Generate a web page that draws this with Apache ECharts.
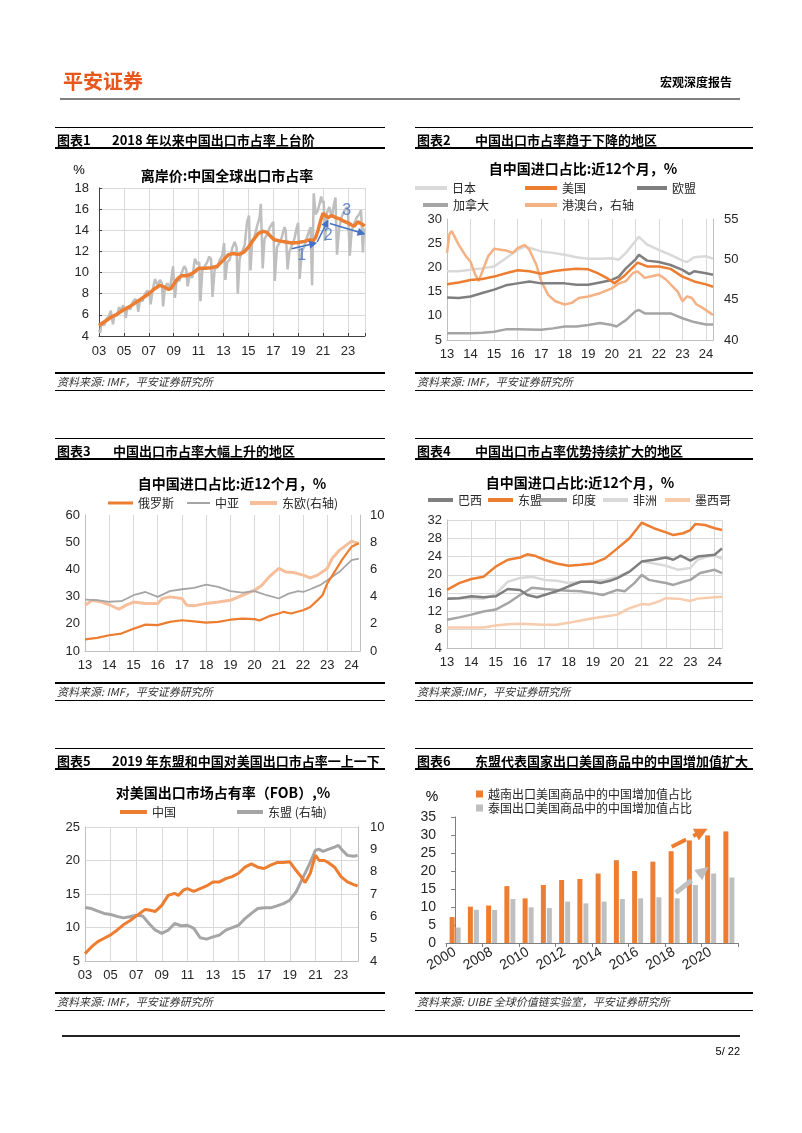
<!DOCTYPE html>
<html><head><meta charset="utf-8">
<script src="https://cdn.jsdelivr.net/npm/echarts@6/dist/echarts.min.js"></script>
<style>
body{margin:0;background:#fff;}
#page{position:relative;width:802px;height:1133px;overflow:hidden;font-family:"Noto Sans CJK SC","Liberation Sans",sans-serif;color:#000;}
#chart{position:absolute;left:0;top:0;width:802px;height:1133px;}
.t{position:absolute;white-space:nowrap;line-height:1.2;}
.c{transform:translate(-50%,-50%);}
.l{transform:translateY(-50%);}
.r{transform:translate(-100%,-50%);}
.ln{position:absolute;}
.pt{font-size:13px;font-weight:bold;}
.ct{font-size:14px;font-weight:bold;}
.src{font-size:11px;font-style:italic;color:#333;}
</style></head><body><div id="page"><div id="chart"></div>
<div class="t l" style="left:63px;top:81px;font-size:20px;font-weight:bold;color:#E8561B;">平安证券</div>
<div class="t r" style="left:732px;top:82px;font-size:12px;font-weight:bold;">宏观深度报告</div>
<div class="ln" style="left:60px;top:98px;width:680px;height:2px;background:#7f7f7f;"></div>

<!-- panel 1 -->
<div class="ln" style="left:55px;top:127px;width:330px;height:1px;background:#000;"></div>
<div class="t l pt" style="left:57px;top:140px;">图表1</div>
<div class="t l pt" style="left:112px;top:140px;">2018 年以来中国出口市占率上台阶</div>
<div class="ln" style="left:55px;top:147px;width:330px;height:2px;background:#000;"></div>
<div class="t c ct" style="left:227px;top:175px;">离岸价:中国全球出口市占率</div>
<div class="t c" style="left:79px;top:170px;font-size:13px;font-family:'Liberation Sans';">%</div>
<div class="ln" style="left:55px;top:372px;width:330px;height:2px;background:#000;"></div>
<div class="t l src" style="left:57px;top:382px;">资料来源: IMF，平安证券研究所</div>
<div class="ln" style="left:55px;top:390px;width:330px;height:1px;background:#000;"></div>

<!-- panel 2 -->
<div class="ln" style="left:415px;top:127px;width:338px;height:1px;background:#000;"></div>
<div class="t l pt" style="left:417px;top:140px;">图表2</div>
<div class="t l pt" style="left:475px;top:140px;">中国出口市占率趋于下降的地区</div>
<div class="ln" style="left:415px;top:147px;width:338px;height:2px;background:#000;"></div>
<div class="t c ct" style="left:583px;top:168px;">自中国进口占比:近12个月，%</div>
<div class="ln" style="left:415px;top:372px;width:338px;height:2px;background:#000;"></div>
<div class="t l src" style="left:417px;top:382px;">资料来源: IMF，平安证券研究所</div>
<div class="ln" style="left:415px;top:390px;width:338px;height:1px;background:#000;"></div>

<!-- panel 3 -->
<div class="ln" style="left:55px;top:438px;width:330px;height:1px;background:#000;"></div>
<div class="t l pt" style="left:57px;top:451px;">图表3</div>
<div class="t l pt" style="left:113px;top:451px;">中国出口市占率大幅上升的地区</div>
<div class="ln" style="left:55px;top:458px;width:330px;height:2px;background:#000;"></div>
<div class="t c ct" style="left:232px;top:483px;">自中国进口占比:近12个月，%</div>
<div class="ln" style="left:55px;top:682px;width:330px;height:2px;background:#000;"></div>
<div class="t l src" style="left:57px;top:692px;">资料来源: IMF，平安证券研究所</div>
<div class="ln" style="left:55px;top:700px;width:330px;height:1px;background:#000;"></div>

<!-- panel 4 -->
<div class="ln" style="left:415px;top:438px;width:338px;height:1px;background:#000;"></div>
<div class="t l pt" style="left:417px;top:451px;">图表4</div>
<div class="t l pt" style="left:475px;top:451px;">中国出口市占率优势持续扩大的地区</div>
<div class="ln" style="left:415px;top:458px;width:338px;height:2px;background:#000;"></div>
<div class="t c ct" style="left:580px;top:482px;">自中国进口占比:近12个月，%</div>
<div class="ln" style="left:415px;top:682px;width:338px;height:2px;background:#000;"></div>
<div class="t l src" style="left:417px;top:692px;">资料来源:IMF，平安证券研究所</div>
<div class="ln" style="left:415px;top:700px;width:338px;height:1px;background:#000;"></div>

<!-- panel 5 -->
<div class="ln" style="left:55px;top:748px;width:330px;height:1px;background:#000;"></div>
<div class="t l pt" style="left:57px;top:761px;">图表5</div>
<div class="t l pt" style="left:112px;top:761px;">2019 年东盟和中国对美国出口市占率一上一下</div>
<div class="ln" style="left:55px;top:768px;width:330px;height:2px;background:#000;"></div>
<div class="t c ct" style="left:223px;top:792px;">对美国出口市场占有率（FOB）,%</div>
<div class="ln" style="left:55px;top:992px;width:330px;height:2px;background:#000;"></div>
<div class="t l src" style="left:57px;top:1002px;">资料来源: IMF，平安证券研究所</div>
<div class="ln" style="left:55px;top:1010px;width:330px;height:1px;background:#000;"></div>

<!-- panel 6 -->
<div class="ln" style="left:415px;top:748px;width:338px;height:1px;background:#000;"></div>
<div class="t l pt" style="left:417px;top:761px;">图表6</div>
<div class="t l pt" style="left:475px;top:761px;">东盟代表国家出口美国商品中的中国增加值扩大</div>
<div class="ln" style="left:415px;top:768px;width:338px;height:2px;background:#000;"></div>
<div class="t c" style="left:432px;top:796px;font-size:14px;font-family:'Liberation Sans';">%</div>
<div class="ln" style="left:415px;top:992px;width:338px;height:2px;background:#000;"></div>
<div class="t l src" style="left:417px;top:1002px;">资料来源: UIBE 全球价值链实验室，平安证券研究所</div>
<div class="ln" style="left:415px;top:1010px;width:338px;height:1px;background:#000;"></div>

<div class="ln" style="left:62px;top:1035px;width:678px;height:2px;background:#222;"></div>
<div class="t r" style="left:740px;top:1052px;font-size:11px;font-family:'Liberation Sans';">5/ 22</div>
</div>
<script>
// ---------------- data ----------------
// Chart 1: China share of global exports (FOB), %
const c1Base = 2003;
const c1Share12m = [[2003.0,5.0],[2003.5,5.4],[2004.0,5.8],[2004.5,6.1],[2005.0,6.5],[2005.5,6.8],[2006.0,7.2],[2006.5,7.6],[2007.0,8.0],[2007.5,8.5],[2007.9,8.8],[2008.3,8.6],[2008.6,8.4],[2008.8,8.5],[2009.0,8.9],[2009.3,9.4],[2009.6,9.7],[2010.0,9.7],[2010.3,9.8],[2010.6,10.0],[2011.0,10.4],[2011.5,10.4],[2012.0,10.45],[2012.5,10.6],[2013.0,11.2],[2013.4,11.7],[2013.8,11.8],[2014.2,11.7],[2014.6,11.9],[2015.0,12.4],[2015.4,13.1],[2015.8,13.7],[2016.2,13.9],[2016.5,13.8],[2016.8,13.4],[2017.1,13.1],[2017.5,13.0],[2018.0,12.9],[2018.5,12.8],[2019.0,12.85],[2019.5,12.95],[2019.9,13.1],[2020.2,13.0],[2020.4,13.3],[2020.6,14.0],[2020.8,14.9],[2021.0,15.6],[2021.2,15.4],[2021.4,15.2],[2021.7,15.4],[2022.0,15.2],[2022.3,15.1],[2022.6,14.9],[2023.0,14.7],[2023.3,14.5],[2023.5,14.4],[2023.8,14.8],[2024.1,14.6],[2024.35,14.4]];
const c1ShareMonthly = [[2003.0,4.6],[2003.1,4.3],[2003.2,5.3],[2003.4,5.0],[2003.6,5.6],[2003.8,5.9],[2003.95,6.4],
 [2004.05,6.5],[2004.12,5.1],[2004.25,6.0],[2004.45,5.9],[2004.6,6.7],[2004.8,6.5],[2004.95,6.9],
 [2005.05,6.4],[2005.15,5.7],[2005.3,6.8],[2005.5,6.5],[2005.7,7.2],[2005.9,7.5],
 [2006.05,7.3],[2006.15,6.3],[2006.3,7.4],[2006.5,7.3],[2006.7,8.0],[2006.9,8.3],
 [2007.05,8.0],[2007.15,7.0],[2007.3,8.3],[2007.5,9.4],[2007.7,8.8],[2007.9,9.3],
 [2008.05,9.0],[2008.15,6.8],[2008.3,8.6],[2008.5,9.0],[2008.7,8.4],[2008.95,10.6],
 [2009.1,7.6],[2009.25,9.4],[2009.45,9.2],[2009.65,10.0],[2009.85,10.6],
 [2010.0,10.3],[2010.12,8.7],[2010.3,9.8],[2010.5,9.5],[2010.7,11.3],[2010.9,10.8],
 [2011.05,11.0],[2011.15,7.3],[2011.3,10.2],[2011.5,10.6],[2011.7,11.0],[2011.85,11.5],
 [2012.0,11.3],[2012.12,7.7],[2012.3,10.4],[2012.5,10.5],[2012.7,11.2],[2012.9,11.6],
 [2013.05,12.8],[2013.15,9.3],[2013.3,11.0],[2013.5,11.2],[2013.7,12.3],[2013.9,12.9],
 [2014.05,12.4],[2014.15,8.0],[2014.3,11.3],[2014.5,12.0],[2014.7,12.6],[2014.9,14.8],
 [2015.05,15.4],[2015.17,10.2],[2015.3,12.8],[2015.5,13.4],[2015.7,14.4],[2015.9,15.2],
 [2016.0,16.5],[2016.15,10.4],[2016.3,13.2],[2016.5,13.6],[2016.7,14.2],[2016.9,14.6],
 [2017.0,14.8],[2017.12,9.2],[2017.3,12.4],[2017.5,12.8],[2017.7,13.4],[2017.9,14.3],
 [2018.0,14.0],[2018.15,10.3],[2018.3,12.0],[2018.5,12.6],[2018.7,13.2],[2018.9,14.3],
 [2019.0,14.7],[2019.12,9.4],[2019.3,12.0],[2019.5,12.5],[2019.7,13.3],[2019.9,14.0],
 [2020.0,14.3],[2020.12,8.8],[2020.25,17.5],[2020.4,15.5],[2020.55,15.8],[2020.7,16.4],[2020.85,17.2],[2020.95,16.6],
 [2021.05,16.8],[2021.15,13.0],[2021.3,15.6],[2021.5,16.2],[2021.7,15.2],[2021.9,16.6],
 [2022.0,17.1],[2022.12,11.7],[2022.3,14.2],[2022.5,15.3],[2022.7,15.8],[2022.9,16.2],
 [2023.0,15.8],[2023.15,11.6],[2023.3,14.0],[2023.5,14.6],[2023.7,15.2],[2023.9,15.5],
 [2024.05,15.9],[2024.2,11.9],[2024.3,14.2]];
const c1Arrows = [[[2018.48,12.26],[2020.22,12.73]],[[2020.53,12.89],[2021.29,14.70]],[[2021.55,14.64],[2024.1,13.74]]];
const c1ArrowLabels = [[2019.28,11.62,'1'],[2021.42,13.52,'2'],[2022.9,15.84,'3']];

// Chart 2: share of imports from China, 12m, % (HK/Macau/Taiwan on right axis)
const c2Japan = [[2013.0,19.2],[2013.5,19.2],[2014.0,19.5],[2014.5,19.8],[2015.0,20.2],[2015.5,21.9],[2016.0,23.6],[2016.3,24.3],[2016.6,23.9],[2017.0,23.3],[2017.5,23.0],[2018.0,22.6],[2018.5,22.1],[2019.0,21.8],[2019.5,21.8],[2020.0,21.9],[2020.3,21.6],[2020.6,23.0],[2021.0,25.4],[2021.15,26.3],[2021.5,24.7],[2022.0,23.6],[2022.5,22.6],[2023.0,21.4],[2023.2,21.1],[2023.5,22.1],[2024.0,22.3],[2024.3,21.8]];
const c2USA = [[2013.0,16.5],[2013.5,16.9],[2014.0,17.4],[2014.5,17.6],[2015.0,18.1],[2015.5,18.8],[2016.0,19.4],[2016.5,19.2],[2017.0,18.7],[2017.5,19.2],[2018.0,19.5],[2018.5,19.7],[2019.0,19.6],[2019.4,18.8],[2019.8,17.8],[2020.1,16.7],[2020.5,18.1],[2021.0,20.5],[2021.1,21.0],[2021.5,20.2],[2022.0,20.2],[2022.5,19.7],[2023.0,18.1],[2023.5,17.1],[2024.0,16.5],[2024.3,16.0]];
const c2EU = [[2013.0,13.8],[2013.5,13.7],[2014.0,14.0],[2014.5,14.7],[2015.0,15.4],[2015.5,16.3],[2016.0,16.7],[2016.5,17.1],[2017.0,16.7],[2017.5,16.7],[2018.0,16.7],[2018.5,16.4],[2019.0,16.4],[2019.5,16.9],[2020.0,17.4],[2020.3,18.1],[2020.6,19.8],[2021.0,21.6],[2021.15,22.6],[2021.5,21.4],[2022.0,21.1],[2022.5,20.5],[2023.0,19.5],[2023.3,18.6],[2023.5,19.2],[2024.0,18.8],[2024.3,18.5]];
const c2Canada = [[2013.0,6.4],[2014.0,6.4],[2014.5,6.5],[2015.0,6.7],[2015.5,7.2],[2016.0,7.2],[2017.0,7.1],[2017.5,7.4],[2018.0,7.8],[2018.5,7.8],[2019.0,8.1],[2019.5,8.5],[2020.0,8.1],[2020.2,7.8],[2020.6,9.1],[2021.0,10.9],[2021.15,11.2],[2021.4,10.5],[2022.0,10.5],[2022.5,10.5],[2023.0,9.5],[2023.5,8.7],[2024.0,8.2],[2024.3,8.2]];
const c2HKMOTW = [[2013.0,50.8],[2013.1,53.1],[2013.2,53.5],[2013.5,51.8],[2013.8,50.4],[2014.0,49.7],[2014.2,48.1],[2014.35,47.3],[2014.5,48.5],[2014.75,50.4],[2015.0,51.3],[2015.5,51.1],[2015.8,50.8],[2016.0,51.4],[2016.3,51.8],[2016.5,51.2],[2016.8,49.3],[2017.0,47.3],[2017.3,45.6],[2017.6,44.8],[2018.0,44.4],[2018.3,44.6],[2018.6,45.2],[2019.0,45.4],[2019.5,45.8],[2020.0,46.4],[2020.3,47.0],[2020.6,47.3],[2020.9,48.3],[2021.1,48.5],[2021.4,47.7],[2021.7,47.9],[2022.0,48.1],[2022.3,47.5],[2022.6,46.6],[2022.8,46.0],[2023.0,44.8],[2023.2,45.4],[2023.4,45.2],[2023.6,44.4],[2023.8,44.1],[2024.0,43.7],[2024.3,43.1]];

// Chart 3
const c3Russia = [[2013.0,14.3],[2013.5,14.8],[2014.0,15.8],[2014.5,16.4],[2015.0,18.2],[2015.5,19.7],[2016.0,19.5],[2016.5,20.7],[2017.0,21.3],[2017.5,20.9],[2018.0,20.4],[2018.5,20.7],[2019.0,21.5],[2019.5,21.9],[2020.0,21.7],[2020.2,21.2],[2020.6,22.8],[2021.0,23.8],[2021.2,24.4],[2021.5,23.8],[2022.0,25.0],[2022.3,26.2],[2022.6,28.7],[2022.8,30.5],[2023.0,34.8],[2023.3,39.1],[2023.6,43.4],[2023.8,45.9],[2024.0,48.3],[2024.3,49.6]];
const c3CentralAsia = [[2013.0,28.9],[2013.5,28.7],[2014.0,28.1],[2014.5,28.3],[2015.0,30.5],[2015.5,31.7],[2016.0,29.9],[2016.5,32.0],[2017.0,32.7],[2017.5,33.2],[2018.0,34.4],[2018.5,33.6],[2019.0,32.0],[2019.5,31.5],[2020.0,32.0],[2020.5,30.5],[2021.0,29.3],[2021.4,31.1],[2021.8,32.0],[2022.0,31.7],[2022.3,32.7],[2022.7,34.2],[2023.0,36.0],[2023.5,39.1],[2024.0,43.4],[2024.3,44.0]];
const c3EastEurope = [[2013.0,3.37],[2013.3,3.73],[2013.7,3.6],[2014.0,3.4],[2014.4,3.07],[2014.7,3.37],[2015.0,3.6],[2015.5,3.5],[2016.0,3.5],[2016.2,3.86],[2016.5,3.98],[2017.0,3.86],[2017.2,3.37],[2017.5,3.32],[2018.0,3.5],[2018.5,3.6],[2019.0,3.73],[2019.5,4.1],[2020.0,4.47],[2020.3,4.84],[2020.6,5.45],[2021.0,6.07],[2021.3,5.8],[2021.6,5.77],[2022.0,5.58],[2022.3,5.38],[2022.6,5.58],[2023.0,6.07],[2023.2,6.8],[2023.5,7.4],[2023.8,7.8],[2024.0,8.08],[2024.3,7.9]];

// Chart 4
const c4Brazil = [[2013.0,14.8],[2013.5,14.9],[2014.0,15.3],[2014.5,15.1],[2015.0,15.3],[2015.5,16.9],[2016.0,16.7],[2016.3,15.6],[2016.7,15.1],[2017.0,15.6],[2017.5,16.4],[2018.0,17.5],[2018.5,18.5],[2019.0,18.5],[2019.3,18.2],[2019.7,18.7],[2020.0,19.3],[2020.5,20.7],[2021.0,22.9],[2021.5,23.3],[2022.0,23.8],[2022.3,23.3],[2022.6,24.2],[2023.0,23.1],[2023.3,24.0],[2024.0,24.4],[2024.3,25.8]];
const c4ASEAN = [[2013.0,16.7],[2013.5,18.2],[2014.0,19.1],[2014.5,19.6],[2015.0,21.8],[2015.5,23.3],[2016.0,23.8],[2016.3,24.5],[2016.6,24.2],[2017.0,23.3],[2017.5,22.5],[2018.0,22.0],[2018.5,22.2],[2019.0,22.5],[2019.5,23.6],[2020.0,25.8],[2020.5,28.0],[2021.0,31.4],[2021.5,30.2],[2022.0,29.3],[2022.3,28.7],[2022.7,29.1],[2023.0,29.8],[2023.2,31.1],[2023.6,30.9],[2024.0,30.2],[2024.3,29.8]];
const c4India = [[2013.0,10.2],[2013.5,10.7],[2014.0,11.3],[2014.5,12.0],[2015.0,12.4],[2015.5,13.8],[2016.0,15.6],[2016.5,17.2],[2017.0,16.9],[2017.5,16.7],[2018.0,16.5],[2018.5,16.4],[2019.0,16.0],[2019.4,15.6],[2020.0,16.7],[2020.3,16.4],[2020.7,18.2],[2021.0,20.0],[2021.3,18.9],[2021.7,18.5],[2022.0,18.2],[2022.3,17.8],[2022.7,18.5],[2023.0,18.9],[2023.4,20.4],[2024.0,21.1],[2024.3,20.4]];
const c4Africa = [[2013.0,14.9],[2014.0,14.9],[2014.5,14.8],[2015.0,15.8],[2015.5,18.5],[2016.0,19.3],[2016.5,19.6],[2017.0,18.9],[2017.5,18.7],[2018.0,18.2],[2018.5,18.5],[2019.0,18.7],[2019.5,18.9],[2020.0,19.6],[2020.5,20.7],[2021.0,22.9],[2021.5,22.5],[2022.0,22.0],[2022.5,21.1],[2023.0,21.5],[2023.3,23.3],[2023.7,24.0],[2024.0,24.2],[2024.3,23.5]];
const c4Mexico = [[2013.0,8.5],[2014.0,8.5],[2014.5,8.5],[2015.0,8.9],[2015.5,9.2],[2016.0,9.3],[2016.5,9.2],[2017.0,9.1],[2017.5,9.1],[2018.0,9.5],[2018.5,10.0],[2019.0,10.5],[2019.5,10.9],[2020.0,11.3],[2020.5,12.7],[2021.0,13.6],[2021.3,13.5],[2021.7,14.2],[2022.0,14.9],[2022.5,14.8],[2023.0,14.3],[2023.3,14.8],[2024.0,15.1],[2024.3,15.2]];

// Chart 5: share of US imports (FOB), %
const c5Base = 2003;
const c5China = [[2003.0,6.1],[2003.5,7.1],[2004.0,7.9],[2004.5,8.4],[2005.0,8.9],[2005.5,9.6],[2006.0,10.4],[2006.5,11.0],[2007.0,11.7],[2007.7,12.7],[2008.0,12.6],[2008.5,12.4],[2009.0,13.3],[2009.5,14.8],[2010.0,15.1],[2010.3,14.8],[2010.7,15.6],[2011.0,15.8],[2011.5,15.4],[2012.0,15.8],[2012.5,16.2],[2013.0,16.8],[2013.5,16.8],[2014.0,17.3],[2014.5,17.6],[2015.0,18.1],[2015.5,19.0],[2016.0,19.5],[2016.5,19.0],[2017.0,18.8],[2017.5,19.3],[2018.0,19.7],[2018.5,19.7],[2019.0,19.8],[2019.5,18.5],[2020.0,17.3],[2020.2,16.7],[2020.6,18.1],[2021.0,20.8],[2021.3,20.0],[2021.7,20.0],[2022.0,19.7],[2022.5,19.0],[2023.0,17.6],[2023.5,16.8],[2024.0,16.4],[2024.3,16.2]];
const c5ASEAN = [[2003.0,6.4],[2003.5,6.35],[2004.0,6.23],[2004.5,6.13],[2005.0,6.08],[2005.5,6.0],[2006.0,5.93],[2006.5,5.98],[2007.0,6.05],[2007.5,6.02],[2008.0,5.68],[2008.5,5.38],[2009.0,5.24],[2009.5,5.38],[2010.0,5.68],[2010.5,5.58],[2011.0,5.6],[2011.5,5.46],[2012.0,5.04],[2012.5,4.98],[2013.0,5.08],[2013.5,5.16],[2014.0,5.38],[2014.5,5.49],[2015.0,5.6],[2015.5,5.9],[2016.0,6.13],[2016.5,6.35],[2017.0,6.38],[2017.5,6.38],[2018.0,6.47],[2018.5,6.57],[2019.0,6.72],[2019.5,7.1],[2020.0,7.7],[2020.5,8.29],[2021.0,8.96],[2021.3,9.0],[2021.6,8.91],[2022.0,9.0],[2022.5,9.1],[2022.8,9.18],[2023.0,9.03],[2023.5,8.73],[2024.0,8.69],[2024.3,8.73]];

// Chart 6: China value added share in exports to US, %
const c6Years = ['2000','2007','2008','2009','2010','2011','2012','2013','2014','2015','2016','2017','2018','2019','2020','2021'];
const c6Vietnam = [7.2,10.1,10.4,15.8,12.4,16.1,17.5,17.8,19.3,23.0,20.0,22.6,25.5,28.5,29.9,31.0];
const c6Thailand = [4.3,9.2,9.2,12.2,9.9,9.7,11.5,11.0,11.5,12.2,12.4,12.7,12.4,16.1,19.3,18.2];
const c6Arrows = [[[11.87,26.75],[13.51,30.9]],[[12.09,13.97],[13.6,19.97]]];

// ---------------- options ----------------
const NUM = '"Liberation Sans", Arial, sans-serif';
const CJK = '"Noto Sans CJK SC", "Liberation Sans", sans-serif';
const ORANGE = '#ED7D31', LORANGE = '#F4B183', PEACH = '#F8CBAD';
const G1 = '#7F7F7F', G2 = '#A5A5A5', G3 = '#D9D9D9', G4 = '#BFBFBF';
const lbl = {fontFamily: NUM, fontSize: 13, color: '#262626'};
const grid = (l, t, w, h) => ({left: l, top: t, width: w, height: h, outerBoundsMode: 'none', containLabel: false});
const shift = (arr, b) => arr.map(p => [p[0] - b, p[1]]);
const yrFmt2 = v => Number.isInteger(v) ? String(v).slice(2) : '';
const offFmt = b => v => (Math.abs(v - Math.round(v)) < 1e-6) ? String(b + Math.round(v)).slice(2) : '';
const axLine = c => ({show: true, lineStyle: {color: c, width: 1}});
const split = show => ({show: show, lineStyle: {color: G3, width: 1, type: 'solid'}});

function legendItem(name, left, y, w, h) {
  return {data: [name], left: left, top: y - 7, padding: 0, itemWidth: w, itemHeight: h, icon: 'rect',
    selectedMode: false, textStyle: {fontFamily: CJK, fontSize: 12, color: '#262626', lineHeight: 14}};
}
function line(name, data, xi, yi, color, width, z) {
  return {name: name, type: 'line', xAxisIndex: xi, yAxisIndex: yi, data: data, color: color, symbol: 'none',
    showSymbol: false, lineStyle: {width: width, color: color}, z: z || 2, silent: true, emphasis: {disabled: true}};
}

const option = {
  animation: false,
  textStyle: {fontFamily: CJK},
  grid: [grid(99, 188, 266, 148), grid(447, 219, 266, 121), grid(85, 515, 275, 136),
         grid(447, 520, 275, 128), grid(85, 827, 273, 134), grid(446, 817, 292, 126)],
  xAxis: [
    {type: 'value', gridIndex: 0, min: 0, max: 21.37, interval: 2, axisLine: axLine('#404040'),
      axisTick: {show: true, inside: true, length: 3, lineStyle: {color: '#404040'}},
      axisLabel: Object.assign({formatter: offFmt(c1Base), margin: 9}, lbl), splitLine: split(true)},
    {type: 'value', gridIndex: 1, min: 2013, max: 2024.3, interval: 1, axisLine: axLine(G4), axisTick: {show: false},
      axisLabel: Object.assign({formatter: yrFmt2, margin: 8}, lbl), splitLine: split(true)},
    {type: 'value', gridIndex: 2, min: 2013, max: 2024.35, interval: 1, axisLine: axLine(G4), axisTick: {show: false},
      axisLabel: Object.assign({formatter: yrFmt2, margin: 8}, lbl), splitLine: split(true)},
    {type: 'value', gridIndex: 3, min: 2013, max: 2024.3, interval: 1, axisLine: axLine(G4), axisTick: {show: false},
      axisLabel: Object.assign({formatter: yrFmt2, margin: 8}, lbl), splitLine: split(true)},
    {type: 'value', gridIndex: 4, min: 0, max: 21.33, interval: 2, axisLine: axLine(G4), axisTick: {show: false},
      axisLabel: Object.assign({formatter: offFmt(c5Base), margin: 8}, lbl), splitLine: split(true)},
    {type: 'category', gridIndex: 5, data: c6Years, axisLine: axLine('#7F7F7F'),
      axisTick: {show: true, length: 4, lineStyle: {color: '#7F7F7F'}},
      axisLabel: Object.assign({interval: 1, rotate: 30, margin: 8}, lbl, {fontSize: 14}), splitLine: {show: false}},
    {type: 'value', gridIndex: 5, min: -0.5, max: 15.5, show: false}
  ],
  yAxis: [
    {type: 'value', gridIndex: 0, min: 4, max: 18, interval: 2, axisLine: axLine('#404040'),
      axisTick: {show: true, inside: true, length: 3, lineStyle: {color: '#404040'}},
      axisLabel: Object.assign({margin: 10}, lbl), splitLine: split(true)},
    {type: 'value', gridIndex: 1, min: 5, max: 30, interval: 5, axisLine: axLine(G4), axisTick: {show: false},
      axisLabel: Object.assign({margin: 5}, lbl), splitLine: split(false)},
    {type: 'value', gridIndex: 1, position: 'right', min: 40, max: 55, interval: 5, axisLine: axLine(G4), axisTick: {show: false},
      axisLabel: Object.assign({margin: 11}, lbl), splitLine: split(false)},
    {type: 'value', gridIndex: 2, min: 10, max: 60, interval: 10, axisLine: axLine(G4), axisTick: {show: false},
      axisLabel: Object.assign({margin: 5}, lbl), splitLine: split(false)},
    {type: 'value', gridIndex: 2, position: 'right', min: 0, max: 10, interval: 2, axisLine: axLine(G4), axisTick: {show: false},
      axisLabel: Object.assign({margin: 10}, lbl), splitLine: split(false)},
    {type: 'value', gridIndex: 3, min: 4, max: 32, interval: 4, axisLine: axLine(G4), axisTick: {show: false},
      axisLabel: Object.assign({margin: 5}, lbl), splitLine: split(true)},
    {type: 'value', gridIndex: 4, min: 5, max: 25, interval: 5, axisLine: axLine(G4), axisTick: {show: false},
      axisLabel: Object.assign({margin: 5}, lbl), splitLine: split(true)},
    {type: 'value', gridIndex: 4, position: 'right', min: 4, max: 10, interval: 1, axisLine: axLine(G4), axisTick: {show: false},
      axisLabel: Object.assign({margin: 12}, lbl), splitLine: split(false)},
    {type: 'value', gridIndex: 5, min: 0, max: 35, interval: 5, axisLine: axLine('#7F7F7F'),
      axisTick: {show: true, length: 4, lineStyle: {color: '#7F7F7F'}},
      axisLabel: Object.assign({margin: 10}, lbl, {fontSize: 14}), splitLine: split(false)}
  ],
  legend: [
    legendItem('日本', 415, 188, 32, 4), legendItem('美国', 525, 188, 32, 4), legendItem('欧盟', 637, 188, 30, 4),
    legendItem('加拿大', 423, 205, 25, 4), legendItem('港澳台，右轴', 525, 205, 32, 4),
    legendItem('俄罗斯', 108, 503, 25, 3), legendItem('中亚', 187, 503, 23, 2), legendItem('东欧(右轴)', 250, 503, 27, 4),
    legendItem('巴西', 428, 500, 25, 4), legendItem('东盟', 488, 500, 25, 4), legendItem('印度', 540, 500, 27, 4),
    legendItem('非洲', 603, 500, 25, 4), legendItem('墨西哥', 665, 500, 25, 4),
    legendItem('中国', 120, 812, 27, 4), legendItem('东盟 (右轴)', 237, 812, 26, 4),
    {data: ['越南出口美国商品中的中国增加值占比', '泰国出口美国商品中的中国增加值占比'], orient: 'vertical', left: 476, top: 787,
      padding: 0, itemGap: 0, itemWidth: 7, itemHeight: 7, icon: 'rect', selectedMode: false,
      textStyle: {fontFamily: CJK, fontSize: 12, color: '#262626', lineHeight: 14}}
  ],
  series: [
    // chart 1
    line('全球出口市占率(月)', shift(c1ShareMonthly, c1Base), 0, 0, G4, 2.5, 2),
    Object.assign(line('全球出口市占率(12月)', shift(c1Share12m, c1Base), 0, 0, ORANGE, 3.5, 3), {
      markLine: {silent: true, symbol: ['none', 'triangle'], symbolSize: 8, label: {show: false}, animation: false,
        lineStyle: {color: '#4472C4', width: 1.5, type: 'solid'},
        data: c1Arrows.map(a => [{coord: [a[0][0] - c1Base, a[0][1]]}, {coord: [a[1][0] - c1Base, a[1][1]]}])}}),
    {type: 'scatter', xAxisIndex: 0, yAxisIndex: 0, symbolSize: 0, silent: true, z: 6,
      data: c1ArrowLabels.map(a => [a[0] - c1Base, a[1], a[2]]),
      label: {show: true, position: 'inside', formatter: p => p.value[2], color: '#4472C4', fontSize: 16, fontFamily: NUM}},
    // chart 2
    line('日本', c2Japan, 1, 1, G3, 2.5),
    line('加拿大', c2Canada, 1, 1, G2, 2.5),
    line('港澳台，右轴', c2HKMOTW, 1, 2, LORANGE, 2.5),
    line('欧盟', c2EU, 1, 1, G1, 2.5, 3),
    line('美国', c2USA, 1, 1, ORANGE, 2.5, 4),
    // chart 3
    line('东欧(右轴)', c3EastEurope, 2, 4, '#F6BE9A', 3),
    line('中亚', c3CentralAsia, 2, 3, G2, 1.8),
    line('俄罗斯', c3Russia, 2, 3, ORANGE, 2.2, 4),
    // chart 4
    line('墨西哥', c4Mexico, 3, 5, PEACH, 2.5),
    line('非洲', c4Africa, 3, 5, G3, 2.5),
    line('印度', c4India, 3, 5, G2, 2.5),
    line('巴西', c4Brazil, 3, 5, G1, 2.5, 3),
    line('东盟', c4ASEAN, 3, 5, ORANGE, 2.5, 4),
    // chart 5
    line('东盟 (右轴)', c5ASEAN.map(p => [p[0] - c5Base, p[1]]), 4, 7, G2, 3),
    line('中国', shift(c5China, c5Base), 4, 6, ORANGE, 3, 4),
    // chart 6
    {name: '越南出口美国商品中的中国增加值占比', type: 'bar', xAxisIndex: 5, yAxisIndex: 8, data: c6Vietnam, color: ORANGE,
      barWidth: 5, barGap: '20%', silent: true},
    {name: '泰国出口美国商品中的中国增加值占比', type: 'bar', xAxisIndex: 5, yAxisIndex: 8, data: c6Thailand, color: G4,
      barWidth: 5, barGap: '20%', silent: true},
    {type: 'line', xAxisIndex: 6, yAxisIndex: 8, data: [], symbol: 'none', silent: true, z: 6,
      markLine: {silent: true, symbol: ['none', 'triangle'], symbolSize: 13, label: {show: false}, animation: false,
        data: [
          [{coord: c6Arrows[0][0], lineStyle: {color: ORANGE, width: 4}}, {coord: c6Arrows[0][1]}],
          [{coord: c6Arrows[1][0], lineStyle: {color: G4, width: 5}}, {coord: c6Arrows[1][1]}]
        ]}}
  ]
};
const chart = echarts.init(document.getElementById('chart'), null, {renderer: 'canvas'});
chart.setOption(option);
</script></body></html>
